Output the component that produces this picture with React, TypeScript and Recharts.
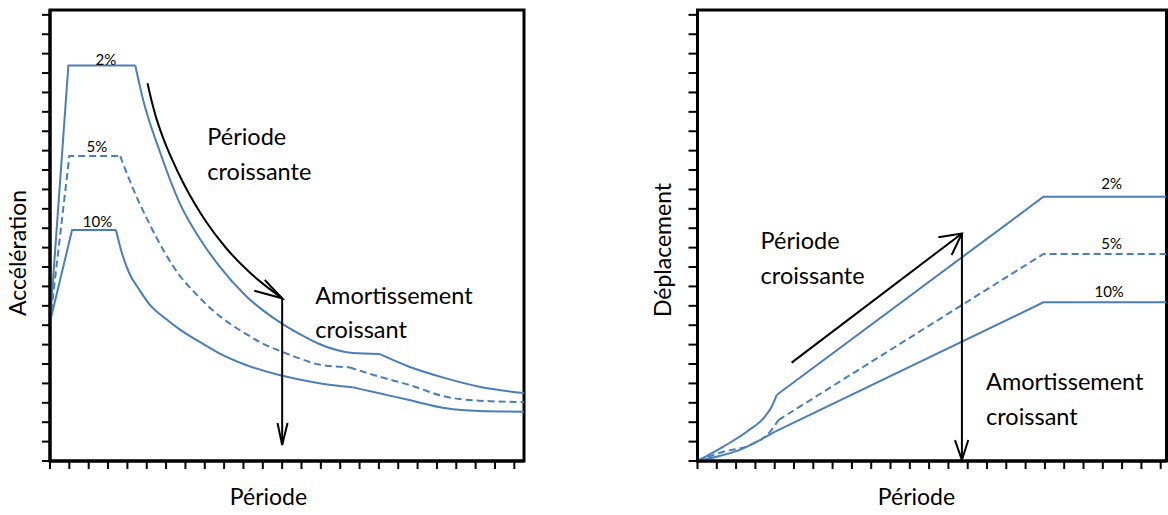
import React from 'react';
import { LineChart, Line, XAxis, YAxis, ReferenceArea, ReferenceDot } from 'recharts';

type Pt = { x: number; y: number };

const BLUE = '#4a7ebb';

// graduations (unités arbitraires, une unité = une graduation)
const xTicks = [0, 1, 2, 3, 4, 5, 6, 7, 8, 9, 10, 11, 12, 13, 14, 15, 16, 17, 18, 19, 20, 21, 22, 23, 24];
const yTicks = [0, 1, 2, 3, 4, 5, 6, 7, 8, 9, 10, 11, 12, 13, 14, 15, 16, 17, 18, 19, 20, 21, 22, 23];

// --- spectre d'accélération ---
const acc2Rise: Pt[] = [{ x: 0, y: 7.16 }, { x: 0.95, y: 20.39 }, { x: 4.41, y: 20.39 }];
const acc2Decay: Pt[] = [
  { x: 4.41, y: 20.39 }, { x: 4.62, y: 19.43 }, { x: 4.87, y: 18.4 }, { x: 5.13, y: 17.53 },
  { x: 5.65, y: 16.03 }, { x: 6.17, y: 14.59 }, { x: 6.68, y: 13.35 }, { x: 7.72, y: 11.5 },
  { x: 8.75, y: 10.05 }, { x: 10.13, y: 8.51 }, { x: 11.85, y: 7.17 }, { x: 12.89, y: 6.55 },
  { x: 13.92, y: 6.03 }, { x: 15.64, y: 5.57 }, { x: 17.02, y: 5.52 },
];
const acc2Tail: Pt[] = [
  { x: 17.02, y: 5.52 }, { x: 18.57, y: 4.86 }, { x: 20.47, y: 4.26 }, { x: 22.19, y: 3.83 }, { x: 24.5, y: 3.5 },
];

const acc5Rise: Pt[] = [{ x: 0, y: 7.16 }, { x: 1.0, y: 15.72 }, { x: 3.63, y: 15.72 }];
const acc5Decay: Pt[] = [
  { x: 3.63, y: 15.72 }, { x: 4.25, y: 14.14 }, { x: 5.13, y: 12.25 }, { x: 6.68, y: 9.59 },
  { x: 7.55, y: 8.61 }, { x: 8.4, y: 7.78 }, { x: 9.27, y: 7.1 }, { x: 10.13, y: 6.55 },
  { x: 10.99, y: 6.06 }, { x: 12.02, y: 5.62 }, { x: 12.89, y: 5.29 }, { x: 13.92, y: 4.97 },
  { x: 15.47, y: 4.83 },
];
const acc5Tail: Pt[] = [
  { x: 15.47, y: 4.83 }, { x: 17.02, y: 4.35 }, { x: 18.57, y: 3.92 }, { x: 20.47, y: 3.31 }, { x: 22.19, y: 3.11 }, { x: 24.5, y: 3.04 },
];

const acc10Rise: Pt[] = [{ x: 0, y: 7.16 }, { x: 1.14, y: 11.91 }, { x: 3.41, y: 11.91 }];
const acc10Decay: Pt[] = [
  { x: 3.41, y: 11.91 }, { x: 3.67, y: 10.88 }, { x: 4.1, y: 9.68 }, { x: 4.62, y: 8.82 },
  { x: 5.13, y: 8.09 }, { x: 6.0, y: 7.32 }, { x: 6.68, y: 6.8 }, { x: 7.72, y: 6.15 },
  { x: 8.75, y: 5.55 }, { x: 10.13, y: 4.95 }, { x: 11.85, y: 4.43 }, { x: 12.89, y: 4.2 },
  { x: 13.92, y: 4.01 }, { x: 15.64, y: 3.8 },
];
const acc10Tail: Pt[] = [
  { x: 15.64, y: 3.8 }, { x: 17.02, y: 3.49 }, { x: 18.57, y: 3.14 }, { x: 20.47, y: 2.72 }, { x: 22.19, y: 2.58 }, { x: 24.5, y: 2.54 },
];

const accArrowCurve: Pt[] = [
  { x: 5.04, y: 19.47 }, { x: 5.24, y: 18.61 }, { x: 5.49, y: 17.69 }, { x: 5.85, y: 16.65 },
  { x: 6.32, y: 15.52 }, { x: 6.89, y: 14.33 }, { x: 7.46, y: 13.3 }, { x: 8.08, y: 12.32 },
  { x: 9.1, y: 10.98 }, { x: 10.3, y: 9.74 }, { x: 12.0, y: 8.39 },
];
const accArrowHead1: Pt[] = [{ x: 10.56, y: 8.78 }, { x: 12.0, y: 8.39 }, { x: 11.1, y: 9.33 }];
const accArrowDown: Pt[] = [{ x: 12.0, y: 8.39 }, { x: 12.0, y: 0.82 }];
const accArrowHead2: Pt[] = [{ x: 11.76, y: 1.96 }, { x: 12.0, y: 0.82 }, { x: 12.28, y: 1.96 }];

// --- spectre de déplacement ---
const dep2Curve: Pt[] = [{ x: 0, y: 0 }, { x: 1.34, y: 0.74 }, { x: 2.55, y: 1.51 }, { x: 3.41, y: 2.2 }, { x: 3.84, y: 2.8 }, { x: 4.1, y: 3.4 }];
const dep2Line: Pt[] = [{ x: 4.1, y: 3.4 }, { x: 17.92, y: 13.62 }, { x: 24.3, y: 13.62 }];
const dep5Curve: Pt[] = [{ x: 0, y: 0 }, { x: 1.34, y: 0.48 }, { x: 2.72, y: 0.82 }, { x: 3.76, y: 1.51 }, { x: 4.19, y: 2.11 }];
const dep5Line: Pt[] = [{ x: 4.19, y: 2.11 }, { x: 17.92, y: 10.67 }, { x: 24.3, y: 10.67 }];
const dep10Curve: Pt[] = [{ x: 0, y: 0 }, { x: 0.99, y: 0.22 }, { x: 2.2, y: 0.57 }, { x: 3.24, y: 1.08 }, { x: 4.02, y: 1.51 }];
const dep10Line: Pt[] = [{ x: 4.02, y: 1.51 }, { x: 17.92, y: 8.18 }, { x: 24.3, y: 8.18 }];

const depArrowDiag: Pt[] = [{ x: 4.88, y: 5.07 }, { x: 13.7, y: 11.73 }];
const depArrowHead1: Pt[] = [{ x: 12.48, y: 11.53 }, { x: 13.7, y: 11.73 }, { x: 13.17, y: 10.62 }];
const depArrowDown: Pt[] = [{ x: 13.7, y: 11.73 }, { x: 13.7, y: 0.05 }];
const depArrowHead2: Pt[] = [{ x: 13.34, y: 1.08 }, { x: 13.7, y: 0.05 }, { x: 14.03, y: 1.08 }];

const FONT = 'Lato, "Open Sans", sans-serif';

const note = (x: number, y: number, text: string, size: number, pos: 'right' | 'center') => (
  <ReferenceDot
    key={`${text}-${x}-${y}`}
    x={x}
    y={y}
    r={0}
    fill="none"
    stroke="none"
    label={{ value: text, position: pos, offset: 0, fontSize: size, fill: '#000' }}
  />
);

const yTitle = (text: string, x: number, y: number) => () => (
  <text x={x} y={y} transform={`rotate(-90 ${x} ${y})`} textAnchor="middle" fontSize={23} fill="#000">
    {text}
  </text>
);

const xTitle = (text: string, x: number, y: number) => () => (
  <text x={x} y={y} textAnchor="middle" fontSize={23} fill="#000">
    {text}
  </text>
);

// pas d'étiquettes, seulement les traits de graduation
const noLabel = () => <g />;

const blue = (data: Pt[], key: string, curve: 'linear' | 'monotone', dashed = false) => (
  <Line
    key={key}
    data={data}
    dataKey="y"
    type={curve}
    stroke={BLUE}
    strokeWidth={2}
    strokeDasharray={dashed ? '7 4' : undefined}
    dot={false}
    activeDot={false}
    isAnimationActive={false}
  />
);

const black = (data: Pt[], key: string, curve: 'linear' | 'monotone' = 'linear') => (
  <Line
    key={key}
    data={data}
    dataKey="y"
    type={curve}
    stroke="#000"
    strokeWidth={2}
    dot={false}
    activeDot={false}
    isAnimationActive={false}
  />
);

const axisLine = { stroke: '#000', strokeWidth: 3 };
const tickLine = { stroke: '#000', strokeWidth: 2 };

const AccelerationChart = () => (
  <LineChart width={560} height={515} margin={{ top: 10, right: 36, bottom: 0, left: 0 }}>
    <XAxis
      type="number"
      dataKey="x"
      domain={[0, 24.5]}
      ticks={xTicks}
      interval={0}
      tick={noLabel}
      tickSize={8}
      tickLine={tickLine}
      axisLine={axisLine}
      height={54}
      allowDataOverflow
      label={xTitle('Période', 268.5, 505)}
    />
    <YAxis
      type="number"
      domain={[0, 23.25]}
      ticks={yTicks}
      interval={0}
      tick={noLabel}
      tickSize={8}
      tickLine={tickLine}
      axisLine={axisLine}
      width={50}
      allowDataOverflow
      label={yTitle('Accélération', 26, 253)}
    />
    <ReferenceArea x1={0} x2={24.5} y1={0} y2={23.25} fill="none" stroke="#000" strokeWidth={3} />
    {blue(acc2Rise, 'a2r', 'linear')}
    {blue(acc2Decay, 'a2d', 'monotone')}
    {blue(acc2Tail, 'a2t', 'monotone')}
    {blue(acc5Rise, 'a5r', 'linear', true)}
    {blue(acc5Decay, 'a5d', 'monotone', true)}
    {blue(acc5Tail, 'a5t', 'monotone', true)}
    {blue(acc10Rise, 'a10r', 'linear')}
    {blue(acc10Decay, 'a10d', 'monotone')}
    {blue(acc10Tail, 'a10t', 'monotone')}
    {black(accArrowCurve, 'arc', 'monotone')}
    {black(accArrowHead1, 'ah1')}
    {black(accArrowDown, 'adn')}
    {black(accArrowHead2, 'ah2')}
    {note(2.89, 20.67, '2%', 15, 'center')}
    {note(2.42, 16.2, '5%', 15, 'center')}
    {note(2.46, 12.34, '10%', 15, 'center')}
    {note(8.13, 16.7, 'Période', 23.5, 'right')}
    {note(8.13, 14.9, 'croissante', 23.5, 'right')}
    {note(13.71, 8.53, 'Amortissement', 23.5, 'right')}
    {note(13.71, 6.78, 'croissant', 23.5, 'right')}
  </LineChart>
);

const DisplacementChart = () => (
  <LineChart width={548} height={515} margin={{ top: 10, right: 1.5, bottom: 0, left: 0 }}>
    <XAxis
      type="number"
      dataKey="x"
      domain={[0, 24.3]}
      ticks={xTicks}
      interval={0}
      tick={noLabel}
      tickSize={8}
      tickLine={tickLine}
      axisLine={axisLine}
      height={54}
      allowDataOverflow
      label={xTitle('Période', 296.5, 505)}
    />
    <YAxis
      type="number"
      domain={[0, 23.25]}
      ticks={yTicks}
      interval={0}
      tick={noLabel}
      tickSize={9}
      tickLine={tickLine}
      axisLine={axisLine}
      width={77.5}
      allowDataOverflow
      label={yTitle('Déplacement', 51, 250)}
    />
    <ReferenceArea x1={0} x2={24.3} y1={0} y2={23.25} fill="none" stroke="#000" strokeWidth={3} />
    {blue(dep2Curve, 'd2c', 'monotone')}
    {blue(dep2Line, 'd2l', 'linear')}
    {blue(dep5Curve, 'd5c', 'monotone', true)}
    {blue(dep5Line, 'd5l', 'linear', true)}
    {blue(dep10Curve, 'd10c', 'monotone')}
    {blue(dep10Line, 'd10l', 'linear')}
    {black(depArrowDiag, 'dd')}
    {black(depArrowHead1, 'dh1')}
    {black(depArrowDown, 'ddn')}
    {black(depArrowHead2, 'dh2')}
    {note(21.46, 14.28, '2%', 15, 'center')}
    {note(21.46, 11.19, '5%', 15, 'center')}
    {note(21.33, 8.71, '10%', 15, 'center')}
    {note(3.27, 11.34, 'Période', 23.5, 'right')}
    {note(3.27, 9.56, 'croissante', 23.5, 'right')}
    {note(14.95, 4.07, 'Amortissement', 23.5, 'right')}
    {note(14.95, 2.27, 'croissant', 23.5, 'right')}
  </LineChart>
);

export default function App() {
  return (
    <div style={{ position: 'absolute', left: 0, top: 0, width: 1168, height: 515, background: '#fff', fontFamily: FONT }}>
      <div style={{ position: 'absolute', left: 0, top: 0 }}>
        <AccelerationChart />
      </div>
      <div style={{ position: 'absolute', left: 620, top: 0 }}>
        <DisplacementChart />
      </div>
    </div>
  );
}
